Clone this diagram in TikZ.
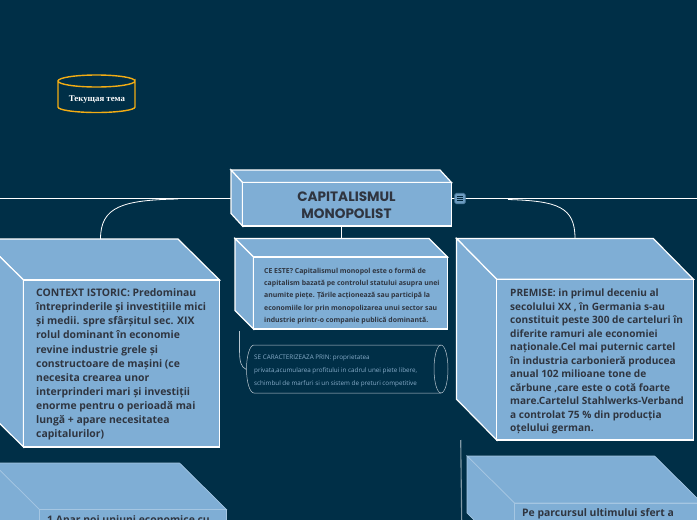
\documentclass[tikz,border=0pt]{standalone}
\usepackage{fontspec}
\setmainfont{Open Sans}
\newfontfamily\titlefont{Poppins}
\newfontfamily\capfont{Liberation Serif}
\definecolor{bgc}{HTML}{002F47}
\definecolor{boxc}{HTML}{7FAED5}
\definecolor{inkc}{HTML}{2F3540}
\definecolor{linec}{HTML}{B9C6CF}
\definecolor{orangec}{HTML}{F2AC14}
\tikzset{
  face/.style={draw=white,fill=boxc,line width=1.2pt,line join=miter},
  softface/.style={draw=boxc!70!white,fill=boxc,line width=0.7pt},
  bodytext/.style={text=inkc,font=\bfseries\fontsize{10.4}{14.1}\selectfont,align=left,anchor=north west,inner sep=0pt},
  smalltext/.style={text=inkc,font=\bfseries\fontsize{6.9}{12.2}\selectfont,align=left,anchor=north west,inner sep=0pt},
  conn/.style={draw=white,line width=1.2pt},
  thinconn/.style={draw=linec,line width=0.8pt},
}
% #1 style, #2 name, #3 back-left x, #4 back-top y, #5 front-left x, #6 front-top y, #7 front-right x, #8 front-bottom y
\newcommand{\solid}[8]{%
  \path[#1] (#3,#4) -- (#7-#5+#3,#4) -- (#7,#6) -- (#5,#6) -- cycle;
  \path[#1] (#3,#4) -- (#5,#6) -- (#5,#8) -- (#3,#8-#6+#4) -- cycle;
  \node[#1,rectangle,inner sep=0pt,outer sep=0pt,anchor=north west,minimum width=#7-#5,minimum height=#8-#6] (#2) at (#5,#6) {};
}
\begin{document}
\begin{tikzpicture}[x=1pt,y=-1pt]
\useasboundingbox (0,0) rectangle (697,520);
\fill[bgc] (0,0) rectangle (697,520);
\clip (0,0) rectangle (697,520);

% current-topic cylinder
\draw[orangec,line width=1.4pt,fill=bgc] (58,81) -- (58,107) arc[start angle=180,end angle=360,x radius=38.5,y radius=-5.5] -- (135,81) arc[start angle=0,end angle=360,x radius=38.5,y radius=6];
\node[text=white,font=\capfont\bfseries\fontsize{8.8}{9}\selectfont,inner sep=0pt] (topiclabel) at (97,99.5) {Текущая тема};

% boxes
\solid{face}{main}{231}{170}{242.5}{182.5}{451.5}{226}
\solid{face}{what}{235}{238.5}{253.5}{257}{447.5}{329}
\solid{face}{ctx}{-18}{239}{23.5}{280}{219.5}{447}
\solid{face}{prem}{456.5}{238.5}{496.7}{279.3}{693.5}{440}
\solid{softface}{low}{-7.5}{463}{39.5}{509.5}{226.5}{560}
\solid{softface}{late}{467}{456}{514.5}{503}{702}{560}

% named free ends
\coordinate (leftend) at (0,198.5);
\coordinate (rightend) at (697,198.5);
\coordinate (tl) at (231,198.5);

% connectors
\draw[conn] (leftend) -- (tl);
\draw[conn] (main.east |- rightend) -- (rightend);
\draw[conn,line width=0.8pt] (178,199) .. controls (122,200) and (100.5,207) .. (100.5,239);
\draw[conn,line width=0.8pt] (341.7,226) -- (341.7,238.5);
\draw[conn,line width=0.8pt] (508,199.5) .. controls (558,201) and (575,207) .. (575,238.5);

% toggle
\node[draw=boxc!60!bgc,fill=boxc!85!bgc,rounded corners=1.5pt,line width=0.7pt,minimum size=10.5pt,inner sep=0pt] (toggle) at (460,198.5) {};
\foreach \yy in {196.2,198.5,200.8}
  \draw[bgc!80!black,line width=0.8pt] (456.6,\yy) -- (463.4,\yy);

% side branch connectors
\coordinate (sideA) at (239.5,331);
\coordinate (sideB) at (460.7,440);
\coordinate (sideC) at (461.7,520);

% characterised-by cylinder
\draw[linec,line width=0.5pt] (254,345) -- (441,345) arc[start angle=90,end angle=-90,x radius=7,y radius=-24] -- (254,393) arc[start angle=-90,end angle=-270,x radius=7.5,y radius=-24] -- cycle;
\draw[linec,line width=0.5pt] (441,345) arc[start angle=90,end angle=270,x radius=7,y radius=-24];
\coordinate (traitleft) at (246.3,369.5);
\draw[thinconn,line width=0.6pt] (sideA) -- (239.5,350) .. controls (239.5,362) and (241,367) .. (traitleft);
\draw[thinconn,draw=linec!70!bgc,line width=1.1pt] (sideB) -- (sideC);

% texts
\node[text=inkc,font=\titlefont\bfseries\fontsize{13.6}{16.5}\selectfont,align=center,inner sep=0pt] (maintext) at (346.5,205) {CAPITALISMUL\\MONOPOLIST};

\node[smalltext] (whattext) at (264,268) {CE ESTE? Capitalismul monopol este o formă de\\capitalism bazată pe controlul statului asupra unei\\anumite piețe. Țările acționează sau participă la\\economiile lor prin monopolizarea unui sector sau\\industrie printr-o companie publică dominantă.};

\node[text=boxc!75!white!85!bgc,font=\fontsize{6.3}{13}\selectfont,align=left,anchor=north west,inner sep=0pt] (traittext) at (254,355) {SE CARACTERIZEAZA PRIN: proprietatea\\privata,acumularea profitului in cadrul unei piete libere,\\schimbul de marfuri si un sistem de preturi competitive};

\node[bodytext] (ctxtext) at (36,288.5) {CONTEXT ISTORIC: Predominau\\întreprinderile și investițiile mici\\și medii. spre sfârșitul sec. XIX\\rolul dominant în economie\\revine industrie grele și\\constructoare de mașini (ce\\necesita crearea unor\\interprinderi mari și investiții\\enorme pentru o perioadă mai\\lungă + apare necesitatea\\capitalurilor)};

\node[bodytext,font=\bfseries\fontsize{10.1}{13.5}\selectfont] (premtext) at (510,289) {PREMISE: in primul deceniu al\\secolului XX , în Germania s-au\\constituit peste 300 de carteluri  în\\diferite ramuri ale economiei\\naționale.Cel mai puternic cartel\\în industria carbonieră producea\\anual 102 milioane tone de\\cărbune ,care este o cotă foarte\\mare.Cartelul Stahlwerks-Verband\\a controlat 75 \% din producția\\oțelului german.};

\node[bodytext] (lowtext) at (47,515) {1 Apar noi uniuni economice cu};
\node[bodytext] (latetext) at (522,508) {Pe parcursul ultimului sfert a};
\end{tikzpicture}
\end{document}
